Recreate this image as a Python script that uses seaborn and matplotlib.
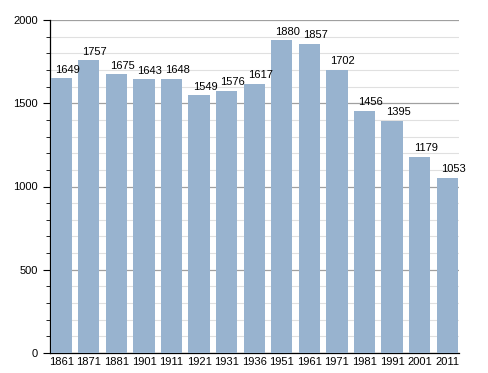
import matplotlib
matplotlib.use("Agg")
import matplotlib.pyplot as plt
import seaborn as sns
import pandas as pd
from matplotlib.ticker import MultipleLocator

years = ["1861", "1871", "1881", "1901", "1911", "1921", "1931", "1936",
         "1951", "1961", "1971", "1981", "1991", "2001", "2011"]
population = [1649, 1757, 1675, 1643, 1648, 1549, 1576, 1617,
              1880, 1857, 1702, 1456, 1395, 1179, 1053]

sns.set_style("white")
plt.rcParams['font.family'] = ['Liberation Sans', 'DejaVu Sans']
plt.rcParams['text.color'] = 'black'
plt.rcParams['xtick.color'] = 'black'
plt.rcParams['ytick.color'] = 'black'

df = pd.DataFrame({"year": years, "pop": population})

fig = plt.figure(figsize=(4.88, 3.73), dpi=100)
ax = fig.add_axes([50/488, 1 - 353/373, (459-50)/488, (353-20)/373])

sns.barplot(data=df, x="year", y="pop", color="#98b3cf", saturation=1,
            width=0.77, ax=ax, zorder=3, linewidth=0)

ax.set_ylim(0, 2000)
ax.set_xlim(-0.41, 14.43)
ax.yaxis.set_major_locator(MultipleLocator(500))
ax.yaxis.set_minor_locator(MultipleLocator(100))
ax.grid(axis="y", which="minor", color="#e0e0e0", linewidth=0.8, zorder=0)
ax.grid(axis="y", which="major", color="#a0a0a0", linewidth=0.9, zorder=0)
ax.set_axisbelow(True)

for s in ["top", "right"]:
    ax.spines[s].set_visible(False)
ax.spines["left"].set_color("black")
ax.spines["bottom"].set_color("black")
ax.spines["left"].set_linewidth(0.9)
ax.spines["bottom"].set_linewidth(0.9)

ax.tick_params(axis="y", which="major", direction="out", length=5, width=0.8,
               labelsize=8, left=True, color="black", labelcolor="black")
ax.tick_params(axis="y", which="minor", direction="out", length=3, width=0.6,
               left=True, color="black")
ax.tick_params(axis="x", which="both", length=0, labelsize=8, pad=3,
               labelcolor="black")

ax.set_xlabel("")
ax.set_ylabel("")

for c in ax.containers:
    anns = ax.bar_label(c, labels=[str(v) for v in population], fontsize=8,
                        padding=2, color="black")
    for a in anns:
        a.xyann = (4.3, 2.5)

fig.savefig("out.png", dpi=100)
